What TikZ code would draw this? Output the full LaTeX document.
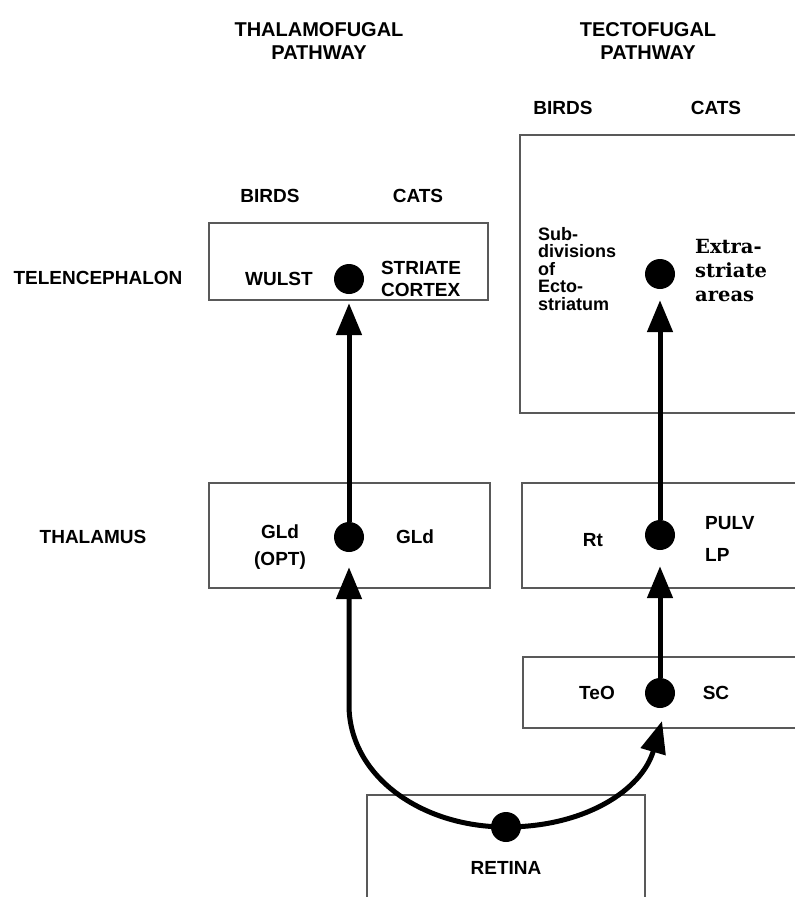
\documentclass[tikz,border=0pt]{standalone}
\usepackage{fontspec}
\setsansfont{Liberation Sans}
\newfontfamily\areafont{DejaVu Serif}
\usetikzlibrary{arrows.meta}

\tikzset{
  box/.style={draw=black!65, line width=2.6pt},
  dot/.style={circle, fill=black, inner sep=0pt, minimum size=30pt},
  link/.style={line width=5pt, -{Triangle[length=32pt,width=25pt]}},
  lbl/.style={font=\sffamily\bfseries\fontsize{19}{21}\selectfont, inner sep=0pt},
  ttl/.style={font=\sffamily\bfseries\fontsize{20}{23}\selectfont, inner sep=0pt, align=center}
}

\begin{document}
\begin{tikzpicture}[x=1pt, y=-1pt]
    \useasboundingbox (0,0) rectangle (795,897);

    % titles
    \node[ttl] (thalamo) at (319,41) {THALAMOFUGAL\\PATHWAY};
    \node[ttl] (tecto) at (648,41) {TECTOFUGAL\\PATHWAY};
    \node[lbl] (birdsR) at (563,108) {BIRDS};
    \node[lbl] (catsR) at (716,108) {CATS};
    \node[lbl] (birdsL) at (270,196) {BIRDS};
    \node[lbl] (catsL) at (418,196) {CATS};

    % levels
    \node[lbl] (telen) at (98,278) {TELENCEPHALON};
    \node[lbl] (thal) at (93,537) {THALAMUS};

    % boxes
    \draw[box] (209,223) rectangle (488,300);
    \draw[box] (209,483) rectangle (490,588);
    \draw[box] (520,135) rectangle (810,413);
    \draw[box] (522,483) rectangle (810,588);
    \draw[box] (523,657) rectangle (810,728);
    \draw[box] (367,795) rectangle (645,910);

    % thalamofugal
    \node[dot] (wulstdot) at (349,279) {};
    \node[dot] (glddot) at (349,537) {};
    \node[lbl] (wulst) at (279,279) {WULST};
    \node[lbl, align=left, font=\sffamily\bfseries\fontsize{19}{22}\selectfont] (striate) at (421,279) {STRIATE\\CORTEX};
    \node[lbl, align=center, font=\sffamily\bfseries\fontsize{19}{27}\selectfont] (gldopt) at (280,547) {GLd\\(OPT)};
    \node[lbl] (gld) at (415,537) {GLd};

    % tectofugal
    \node[dot] (extradot) at (660,274) {};
    \node[dot] (rtdot) at (660,535) {};
    \node[dot] (teodot) at (660,693) {};
    \node[lbl, anchor=west, align=left, font=\sffamily\bfseries\fontsize{18}{17.5}\selectfont] (subdiv) at (538,269) {Sub-\\divisions\\of\\Ecto-\\striatum};
    \node[inner sep=0pt, anchor=west, align=left, font=\areafont\bfseries\fontsize{19.5}{24}\selectfont] (extra) at (695,271) {Extra-\\striate\\areas};
    \node[lbl] (rt) at (593,540) {Rt};
    \node[lbl, anchor=west, align=left, font=\sffamily\bfseries\fontsize{19}{32}\selectfont] (pulv) at (705,539) {PULV\\LP};
    \node[lbl] (teo) at (597,693) {TeO};
    \node[lbl] (sc) at (716,693) {SC};

    % retina
    \node[dot] (retdot) at (506,827) {};
    \node[lbl] (retina) at (506,868) {RETINA};
    \coordinate (bendL) at (349,705);
    \coordinate (teotip) at (662,721);

    \draw[link, shorten >=9pt] (glddot) -- (wulstdot);
    \draw[link, shorten >=11pt] (rtdot) -- (extradot);
    \draw[link, shorten >=16pt] (teodot) -- (rtdot);
    \draw[link, shorten >=15pt] (retdot.center) .. controls (420,827) and (349,775) .. (bendL) -- (glddot);
    \draw[link] (retdot.center) .. controls (585,827) and (642,790) .. (teotip);
\end{tikzpicture}
\end{document}
